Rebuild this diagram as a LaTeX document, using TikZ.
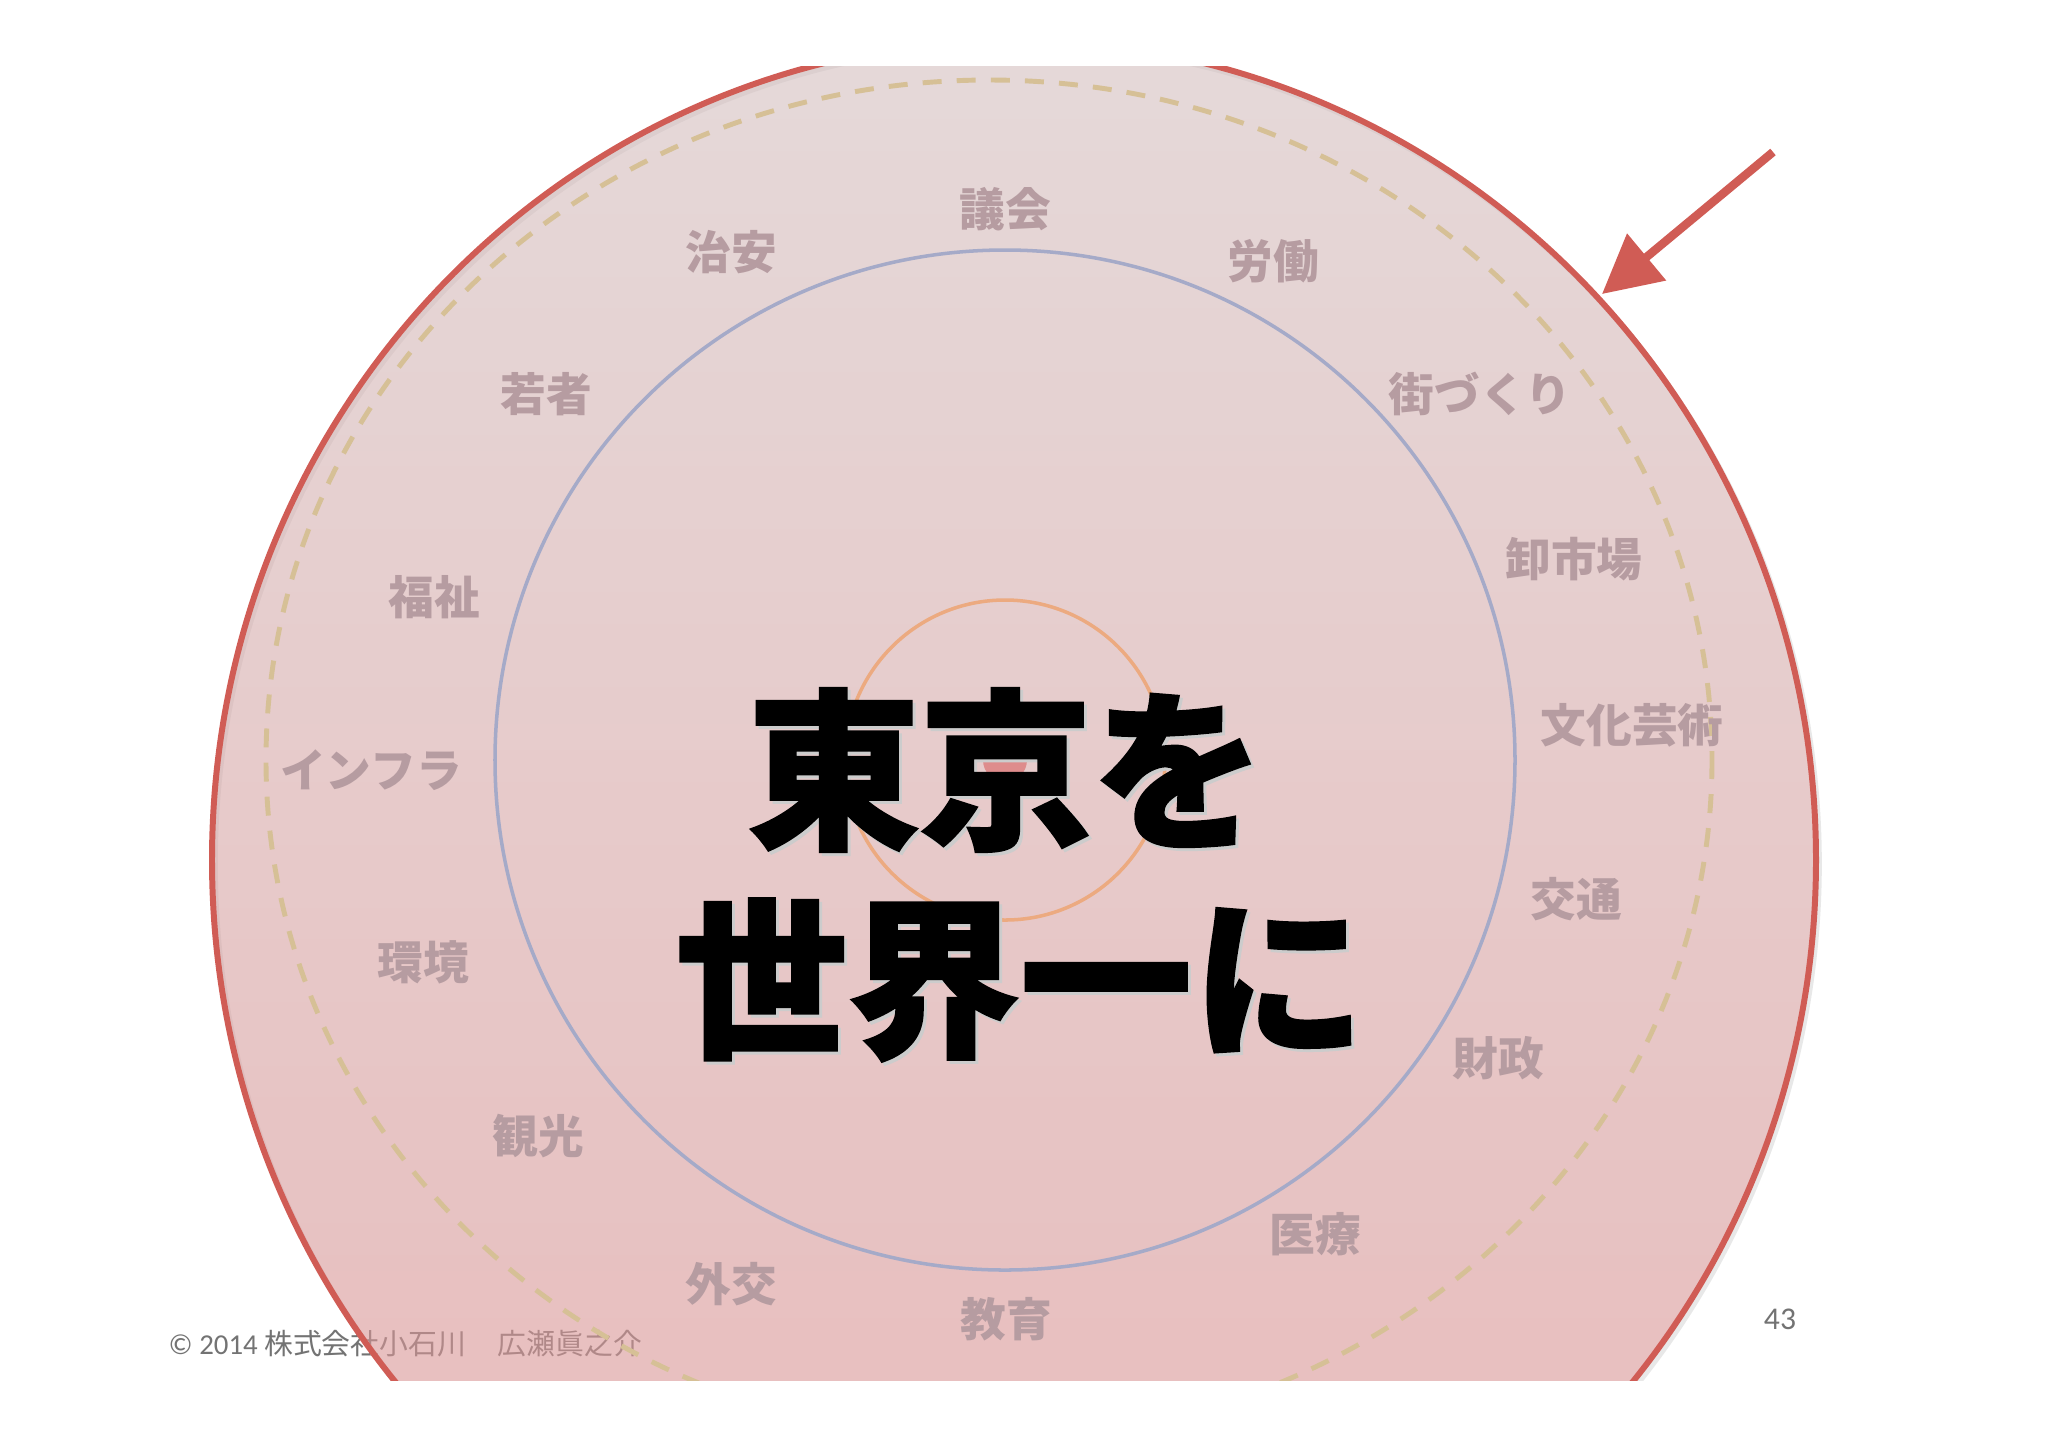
\documentclass[tikz,border=0pt]{standalone}
\usepackage{fontspec}
\usepackage{xcolor}
\usepackage{tikz}
\usetikzlibrary{arrows.meta}
\newfontfamily\jpfont{Noto Sans CJK JP}
\newfontfamily\heavyfont[BoldFeatures={FakeBold=1.5}]{Noto Sans CJK JP}
\newfontfamily\footfont{Carlito}
\definecolor{ringred}{RGB}{208,92,85}
\definecolor{filltop}{RGB}{212,192,192}
\definecolor{fillbottom}{RGB}{218,140,140}
\definecolor{dashtan}{RGB}{214,192,150}
\definecolor{ringblue}{RGB}{165,170,200}
\definecolor{ringorange}{RGB}{236,170,128}
\definecolor{topicgray}{RGB}{182,156,161}
\definecolor{footgray}{RGB}{115,115,115}
\definecolor{coredot}{RGB}{222,140,140}
\tikzset{
    topic/.style={font=\jpfont\bfseries\fontsize{13}{15}\selectfont, text=topicgray, inner sep=0pt},
    headline/.style={font=\heavyfont\bfseries\fontsize{49}{55}\selectfont, inner sep=0pt},
    credit/.style={font=\jpfont\fontsize{8.2}{10}\selectfont, text=footgray, inner sep=0pt},
    pagenum/.style={font=\footfont\fontsize{9}{11}\selectfont, text=footgray, inner sep=0pt},
    disc/.style={top color=filltop, bottom color=fillbottom, fill opacity=0.6},
    discline/.style={draw=ringred, line width=1.7pt},
    discshadow/.style={draw=black!9, line width=1.6pt},
    dashring/.style={draw=dashtan, line width=1.4pt, dash pattern=on 5.4pt off 4.3pt},
    bluering/.style={draw=ringblue, line width=1pt},
    orangering/.style={draw=ringorange, line width=1pt},
    pointer/.style={-{Triangle[length=16.5pt, width=16.8pt]}, line width=2.4pt, draw=ringred, fill=ringred}
}
\begin{document}
\begin{tikzpicture}[x=0.01cm, y=-0.01cm]
    \useasboundingbox (0,0) rectangle (2048,1447);
    \fill[white] (0,0) rectangle (2048,1447);

    % Credit line, lying under the disc
    \node[credit, anchor=west] (credit) at (168,1344) {{\footfont © 2014} 株式会社小石川\hspace{1.1em}広瀬眞之介};

    \begin{scope}
        \clip (0,66) rectangle (2048,1380);
        % Outer disc
        \draw[discshadow] (1017,864) ellipse [x radius=802, y radius=820];
        \shade[disc] (1014,860) ellipse [x radius=802, y radius=820];
        \draw[discline] (1014,860) ellipse [x radius=802, y radius=820];
        % Rings
        \draw[dashring] (989,760) ellipse [x radius=723, y radius=680];
        \draw[bluering] (1005,760) circle [radius=510];
        \draw[orangering] (1005,760) circle [radius=160];
        \fill[coredot] (1005,760) circle [radius=22];
    \end{scope}

    % Topics round the rings
    \node[topic] (gikai) at (1005,209) {議会};
    \node[topic] (chian) at (731,252) {治安};
    \node[topic] (roudou) at (1273,261) {労働};
    \node[topic] (wakamono) at (546,394) {若者};
    \node[topic] (machi) at (1480,394) {街づくり};
    \node[topic] (fukushi) at (434,597) {福祉};
    \node[topic] (oroshi) at (1574,559) {卸市場};
    \node[topic] (infra) at (371,770) {インフラ};
    \node[topic] (bunka) at (1632,725) {文化芸術};
    \node[topic] (kankyou) at (423,962) {環境};
    \node[topic] (koutsuu) at (1576,899) {交通};
    \node[topic] (kankou) at (538,1136) {観光};
    \node[topic] (zaisei) at (1498,1058) {財政};
    \node[topic] (gaikou) at (731,1284) {外交};
    \node[topic] (iryou) at (1315,1234) {医療};
    \node[topic] (kyouiku) at (1006,1319) {教育};

    % Headline
    \node[headline, text=black!20] (headshadow1) at (1009,773) {東京を};
    \node[headline, text=black!20] (headshadow2) at (1023,983) {世界一に};
    \node[headline] (head1) at (1006,770) {東京を};
    \node[headline] (head2) at (1020,980) {世界一に};

    % Pointer onto the outer disc
    \coordinate (arrowtail) at (1773,152);
    \coordinate (arrowtip) at (1602,294);
    \draw[pointer] (arrowtail) -- (arrowtip);

    \node[pagenum] (page) at (1780,1319) {43};
\end{tikzpicture}
\end{document}
